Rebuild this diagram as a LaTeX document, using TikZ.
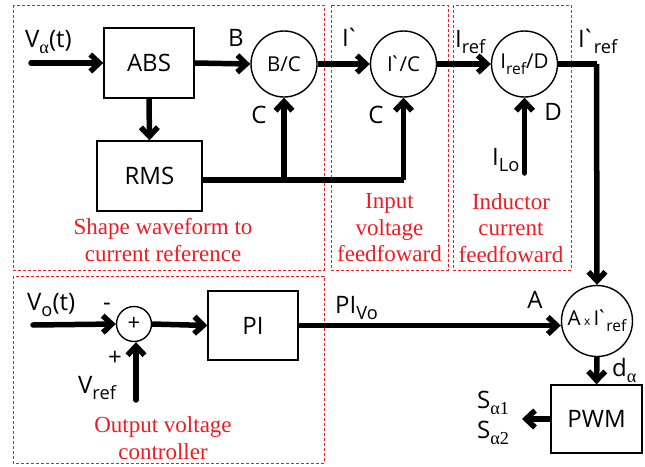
\documentclass[tikz,border=0pt]{standalone}
\usepackage{fontspec}
\setmainfont{Open Sans}[Ligatures=TeXOff]
\newfontfamily\serif{Liberation Serif}
\usetikzlibrary{arrows.meta}
\definecolor{dred}{RGB}{237,28,36}
\newcommand\subs[1]{\raisebox{-0.28em}{\scalebox{0.76}{#1}}}
\newcommand\grv{\kern-3.5pt`\kern-1.5pt}
\begin{document}
\begin{tikzpicture}[x=1pt,y=-1pt,
  blk/.style={draw,line width=1.4pt,inner sep=0,font=\fontsize{24}{28}\selectfont},
  circ/.style={draw,circle,line width=1.4pt,inner sep=0,font=\fontsize{20.5}{24}\selectfont},
  lab/.style={inner sep=0,font=\fontsize{24}{28}\selectfont},
  note/.style={inner sep=0,text=dred,align=center,font=\serif\fontsize{23}{26.5}\selectfont},
  zone/.style={draw=dred,line width=0.8pt,dash pattern=on 3pt off 2pt},
  conn/.style={line width=5.5pt,-{Straight Barb[length=9pt,width=17pt]}},
  wire/.style={line width=5.5pt}]
\useasboundingbox (0,0) rectangle (645,466);
% zones
\draw[zone] (13,5) rectangle (324,270);
\draw[zone] (331,5) rectangle (448,270);
\draw[zone] (453,5) rectangle (571,270);
\draw[zone] (13,276) rectangle (324,463);
% blocks
\node[blk,minimum width=90pt,minimum height=70pt] (abs) at (149,63) {ABS};
\node[blk,minimum width=105pt,minimum height=70pt] (rms) at (149.5,176) {RMS};
\node[blk,minimum width=90pt,minimum height=69pt] (pi) at (253,325.5) {PI};
\node[blk,minimum width=91pt,minimum height=68pt] (pwm) at (596.5,419) {PWM};
\node[circ,minimum size=66pt] (bc) at (284,64) {B/C};
\node[circ,minimum size=66pt] (ic) at (403.5,64) {I\grv/C};
\node[circ,minimum size=66pt] (ird) at (524.5,64) {I\subs{ref}/D};
\node[circ,minimum size=71pt] (axi) at (597,321) {A\,{\fontsize{12}{12}\selectfont x}\,I\grv\subs{ref}};
\node[circ,minimum size=35pt,font=\fontsize{22}{22}\selectfont] (sum) at (134,324) {+};
% free ends
\coordinate (vin) at (31,63);
\coordinate (vo) at (33,325);
\coordinate (vref) at (136,400);
\coordinate (ilo) at (524.5,173);
\coordinate (sout) at (522,419);
\coordinate (j1) at (284,180);
\coordinate (j2) at (403.5,180);
\coordinate (j3) at (596.5,64);
% connectors
\draw[conn,line cap=round] (vin) -- (abs.west);
\draw[conn] (abs.east) -- (bc.west);
\draw[conn] (abs.south) -- (rms.north);
\draw[wire] ([yshift=-4pt]rms.east) -- (j2);
\draw[conn] (j2) -- (ic.south);
\draw[conn] (j1) -- (bc.south);
\draw[conn] (bc.east) -- (ic.west);
\draw[conn] (ic.east) -- (ird.west);
\draw[conn,line cap=round] (ilo) -- (ird.south);
\draw[wire] (ird.east) -- (j3);
\draw[conn] (j3) -- (axi.north);
\draw[conn,line cap=round] (vo) -- (sum.west);
\draw[conn,line cap=round] (vref) -- (vref |- sum.south);
\draw[conn] (sum.east) -- (pi.west);
\draw[conn] (pi.east) -- (pi.east -| axi.west);
\draw[conn] (axi.south) -- (pwm.north);
\draw[conn] (pwm.west) -- (sout);
% labels
\node[lab,anchor=base west] (lva) at (25,47) {V\subs{\serif α}(t)};
\node[lab,anchor=base] (lb) at (236,46) {B};
\node[lab,anchor=base] (lc1) at (259,123) {C};
\node[lab,anchor=base west] (li) at (342,46) {I\grv};
\node[lab,anchor=base] (lc2) at (376,123) {C};
\node[lab,anchor=base west] (liref) at (455,47) {I\subs{ref}};
\node[lab,anchor=base west] (lirefp) at (578,47) {I\grv\subs{ref}};
\node[lab,anchor=base] (ld) at (553,120) {D};
\node[lab,anchor=base west] (lilo) at (492,165) {I\subs{Lo}};
\node[lab,anchor=base west] (lvo) at (27,310) {V\subs{o}(t)};
\node[lab] (lminus) at (107,307) {-};
\node[lab] (lplus) at (115,358) {+};
\node[lab,anchor=base west] (lvref) at (78,393) {V\subs{ref}};
\node[lab,anchor=base west] (lpivo) at (335,313) {PI\subs{Vo}};
\node[lab,anchor=base] (la) at (535,308) {A};
\node[lab,anchor=base west] (lda) at (612,376) {d\subs{\serif α}};
\node[lab,anchor=base west] (ls1) at (477,408) {S\subs{\serif α1}};
\node[lab,anchor=base west] (ls2) at (477,438) {S\subs{\serif α2}};
% notes
\node[note] (n1) at (163,240) {Shape waveform to\\current reference};
\node[note] (n2) at (389.5,228) {Input\\voltage\\feedfoward};
\node[note] (n3) at (511,228) {Inductor\\current\\feedfoward};
\node[note] (n4) at (163,438) {Output voltage\\controller};
\end{tikzpicture}
\end{document}
